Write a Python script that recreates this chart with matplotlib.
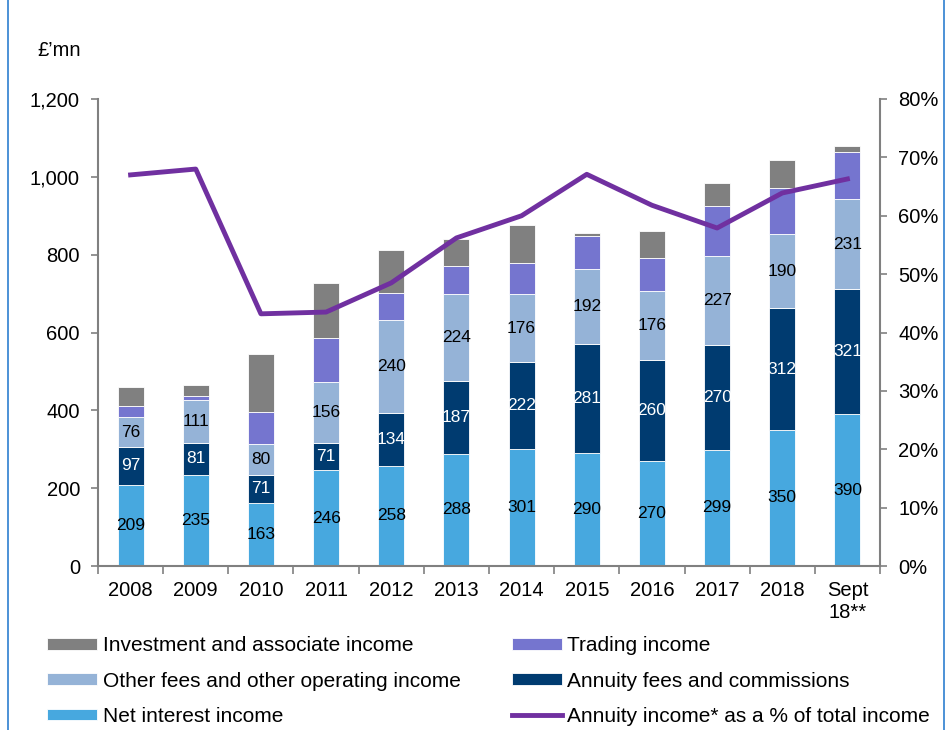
import matplotlib.pyplot as plt
import numpy as np
from matplotlib.ticker import FuncFormatter, PercentFormatter
from matplotlib.lines import Line2D

plt.rcParams['font.family'] = ['Liberation Sans', 'DejaVu Sans']

years = ['2008', '2009', '2010', '2011', '2012', '2013', '2014', '2015',
         '2016', '2017', '2018', 'Sept\n18**']
net_interest = [209, 235, 163, 246, 258, 288, 301, 290, 270, 299, 350, 390]
annuity_fees = [97, 81, 71, 71, 134, 187, 222, 281, 260, 270, 312, 321]
other_fees = [76, 111, 80, 156, 240, 224, 176, 192, 176, 227, 190, 231]
trading = [30, 11, 81, 112, 69, 72, 79, 85, 85, 130, 119, 123]
investment = [47, 28, 150, 141, 111, 69, 98, 7, 70, 59, 72, 15]
annuity_pct = [67.0, 68.0, 43.2, 43.5, 48.5, 56.2, 60.0, 67.1, 61.8, 57.9, 63.9, 66.3]

c_net = '#47A8DF'
c_ann = '#003B70'
c_oth = '#95B3D7'
c_trd = '#7575CF'
c_inv = '#808080'
c_line = '#7030A0'

fig = plt.figure(figsize=(9.52, 7.30), dpi=100)
ax = fig.add_axes([98/952, 1-566/730, 782/952, 467/730])
x = np.arange(len(years))
w = 0.4

bottom = np.zeros(len(years))
series = [(net_interest, c_net, 'Net interest income', 'black'),
          (annuity_fees, c_ann, 'Annuity fees and commissions', 'white'),
          (other_fees, c_oth, 'Other fees and other operating income', 'black'),
          (trading, c_trd, 'Trading income', None),
          (investment, c_inv, 'Investment and associate income', None)]
handles = {}
for vals, col, lab, tcol in series:
    b = ax.bar(x, vals, w, bottom=bottom, color=col, label=lab,
               edgecolor='white', linewidth=0.6, zorder=2)
    handles[lab] = b
    if tcol:
        for xi, v, bt in zip(x, vals, bottom):
            ax.text(xi, bt + v/2, str(v), ha='center', va='center',
                    color=tcol, fontsize=12.5, zorder=4)
    bottom = bottom + np.array(vals)

ax.set_xlim(-0.5, len(years) - 0.5)
ax.set_ylim(0, 1200)
ax.set_yticks(range(0, 1201, 200))
ax.yaxis.set_major_formatter(FuncFormatter(lambda v, p: f'{int(v):,}'))
ax.set_xticks(np.arange(-0.5, len(years)), labels=[''] * (len(years) + 1))
ax.set_xticks(x, labels=years, minor=True)
ax.tick_params(axis='x', which='minor', length=0, labelsize=14.5, pad=11)
ax.tick_params(axis='x', which='major', length=6, color='#808080', width=1.2)
ax.tick_params(axis='y', labelsize=14.5, length=5, color='#808080', width=1.2, pad=8)
for s in ['top', 'right']:
    ax.spines[s].set_visible(False)
for s in ['left', 'bottom']:
    ax.spines[s].set_color('#808080')
    ax.spines[s].set_linewidth(1.5)

ax2 = ax.twinx()
ln, = ax2.plot(x, annuity_pct, color=c_line, linewidth=3.5, zorder=5,
               label='Annuity income* as a % of total income')
ax2.set_ylim(0, 80)
ax2.set_yticks(range(0, 81, 10))
ax2.yaxis.set_major_formatter(PercentFormatter(decimals=0))
ax2.tick_params(axis='y', labelsize=14.5, length=5, color='#808080', width=1.2, pad=8)
for s in ['top', 'left', 'bottom']:
    ax2.spines[s].set_visible(False)
ax2.spines['right'].set_color('#808080')
ax2.spines['right'].set_linewidth(1.5)

fig.text(37/952, 1-51/730, '£\u2019mn', fontsize=14.5, va='center')

order = ['Investment and associate income', 'Other fees and other operating income',
         'Net interest income', 'Trading income', 'Annuity fees and commissions']
hs = [handles[k] for k in order]  + [ln]
ls = order + ['Annuity income* as a % of total income']
fig.legend(hs, ls, loc='upper left', bbox_to_anchor=(37/952, 1-626/730), ncol=2,
           frameon=False, fontsize=15, handlelength=2.4, handleheight=0.5,
           handletextpad=0.25, labelspacing=0.78, columnspacing=2.45, borderpad=0)

# blue frame lines at the sides
fig.add_artist(Line2D([8/952, 8/952], [0, 1], color='#2E7FD0', linewidth=1.2))
fig.add_artist(Line2D([944/952, 944/952], [0, 1], color='#2E7FD0', linewidth=1.2))

fig.savefig('out.png', dpi=100)
